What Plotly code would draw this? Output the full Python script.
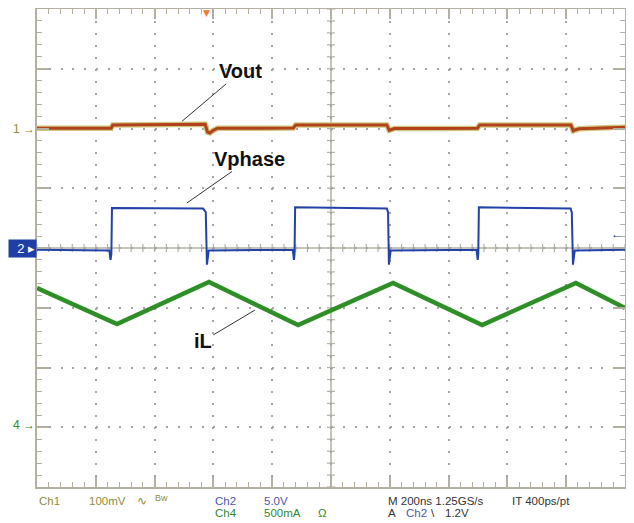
import plotly.graph_objects as go

# ---------------- data ----------------
# time in ns (200 ns/div, 10 div)
t_vout = [0, 200, 230, 252, 258, 420, 560, 572, 580, 588, 600, 614, 750, 872, 880, 1000,
          1190, 1198, 1206, 1216, 1350, 1498, 1506, 1650, 1816, 1824, 1832, 1844, 1950, 2000]
vout_mv = [0.5, 0.0, 0.8, 0.5, 6.0, 6.5, 6.0, 7.0, -6.0, -7.5, -3.0, 0.5, 0.5, 1.0, 6.0, 5.5,
           6.0, -3.0, -2.0, 0.0, 0.0, 0.5, 6.0, 5.5, 6.0, -4.0, -2.0, -0.5, 1.5, 2.0]

t_vphase = [0, 246, 250, 253, 255, 420, 565, 574, 578, 584, 870, 874, 876, 878, 1030,
            1190, 1194, 1197, 1203, 1495, 1499, 1501, 1503, 1660, 1815, 1819, 1823, 1829, 2000]
vphase_v = [-0.15, -0.2, -1.0, -0.5, 3.35, 3.3, 3.3, 3.0, -1.4, -0.2, -0.15, -1.0, -0.5, 3.4, 3.35,
            3.3, 3.0, -1.4, -0.2, -0.15, -1.0, -0.5, 3.4, 3.35, 3.3, 3.0, -1.4, -0.2, -0.15]

t_il = [0, 272, 585, 888, 1211, 1514, 1833, 2000]
il_a = [1.165, 0.864, 1.215, 0.856, 1.207, 0.856, 1.207, 0.998]

# channel settings: (units/div, ground position in divisions from centre)
CH1_SCALE, CH1_POS = 100.0, 2.0     # mV/div
CH2_SCALE, CH2_POS = 5.0, 0.0       # V/div
CH4_SCALE, CH4_POS = 0.5, -3.0      # A/div
TRIG_LEVEL = 1.2
TRIG_TIME = 578
TIME_DIV = 200

bottom_line1 = [("Ch1", 37, "#8c8c3c"), ("100mV", 87, "#8c8c3c"), ("∿", 135, "#8c8c3c"),
                ("Ch2", 213, "#4a5aa5"), ("5.0V", 262, "#4a5aa5"),
                ("M 200ns 1.25GS/s", 386, "#333333"), ("IT 400ps/pt", 510, "#333333")]
bottom_line2 = [("Ch4", 213, "#2f8a2f"), ("500mA", 262, "#2f8a2f"), ("Ω", 316, "#2f8a2f"),
                ("A", 386, "#333333"), ("Ch2", 404, "#4a5aa5"), ("\\", 429, "#333333"),
                ("1.2V", 443, "#333333")]

# ---------------- geometry ----------------
# the page body has an 8px margin, so the figure is offset by 8px
BODY = 8
W, H = 634, 523
PLOT_L, PLOT_R, PLOT_T, PLOT_B = 37, 625, 9, 487      # page pixels
L, T = PLOT_L - BODY, PLOT_T - BODY
R, B = W - (PLOT_R - BODY), H - (PLOT_B - BODY)
PW, PH = PLOT_R - PLOT_L, PLOT_B - PLOT_T


def px_x(px):
    return (px - PLOT_L) / PW


def px_y(py):
    return (PLOT_B - py) / PH


def rng(scale, pos):
    return [(-4 - pos) * scale, (4 - pos) * scale]


FONT = "Liberation Sans, Arial, sans-serif"
FRAME = "#b3b0a2"

fig = go.Figure()

# Vout (ch1)
fig.add_trace(go.Scatter(x=t_vout, y=vout_mv, mode="lines", yaxis="y",
                         line=dict(color="#cfc77e", width=5.5), hoverinfo="skip"))
fig.add_trace(go.Scatter(x=t_vout, y=vout_mv, mode="lines", yaxis="y",
                         line=dict(color="#b1421c", width=3), name="Vout"))
# Vphase (ch2)
fig.add_trace(go.Scatter(x=t_vphase, y=vphase_v, mode="lines", yaxis="y2",
                         line=dict(color="#2342a8", width=2), name="Vphase"))
# iL (ch4)
fig.add_trace(go.Scatter(x=t_il, y=il_a, mode="lines", yaxis="y3",
                         line=dict(color="#2f8f27", width=4.5), name="iL"))

shapes = []
# centre cross
shapes.append(dict(type="line", xref="x", yref="paper", x0=5 * TIME_DIV, x1=5 * TIME_DIV, y0=0, y1=1,
                   line=dict(color=FRAME, width=1.5), layer="below"))
shapes.append(dict(type="line", xref="paper", yref="y", x0=0, x1=1,
                   y0=-CH1_POS * CH1_SCALE, y1=-CH1_POS * CH1_SCALE,
                   line=dict(color=FRAME, width=1.5), layer="below"))
# minor ticks on centre cross
for i in range(51):
    xv = i * TIME_DIV / 5
    shapes.append(dict(type="line", xref="x", yref="y", xsizemode="scaled", ysizemode="pixel",
                       yanchor=-CH1_POS * CH1_SCALE, x0=xv, x1=xv, y0=-4, y1=4,
                       line=dict(color=FRAME, width=1.2), layer="below"))
for j in range(41):
    yv = rng(CH1_SCALE, CH1_POS)[0] + j * CH1_SCALE / 5
    shapes.append(dict(type="line", xref="x", yref="y", xsizemode="pixel", ysizemode="scaled",
                       xanchor=5 * TIME_DIV, x0=-4, x1=4, y0=yv, y1=yv,
                       line=dict(color=FRAME, width=1.2), layer="below"))

annotations = []
lab_font = dict(family=FONT, size=20, color="#111111")
annotations.append(dict(x=493, y=12, xref="x", yref="y", text="<b>Vout</b>", font=lab_font,
                        showarrow=True, arrowhead=0, arrowwidth=1, arrowcolor="#333333",
                        ax=59, ay=-50, standoff=0))
annotations.append(dict(x=510, y=3.77, xref="x", yref="y2", text="<b>Vphase</b>", font=lab_font,
                        showarrow=True, arrowhead=0, arrowwidth=1, arrowcolor="#333333",
                        ax=63, ay=-44, standoff=0))
annotations.append(dict(x=741, y=0.98, xref="x", yref="y3", text="<b>iL</b>", font=lab_font,
                        showarrow=True, arrowhead=0, arrowwidth=1, arrowcolor="#333333",
                        ax=-52, ay=31, standoff=0))

# channel ground markers
annotations.append(dict(x=0, y=0, xref="x", yref="y", text="1 →", showarrow=False,
                        xanchor="right", font=dict(family=FONT, size=12, color="#8c8c3c")))
annotations.append(dict(x=0, y=0, xref="x", yref="y2", text="  2 ▸", showarrow=False,
                        xanchor="right", bgcolor="#1f3fa6", borderpad=1,
                        font=dict(family=FONT, size=13, color="#ffffff")))
annotations.append(dict(x=0, y=0, xref="x", yref="y3", text="4 →", showarrow=False,
                        xanchor="right", yshift=2, font=dict(family=FONT, size=12, color="#2f8a2f")))
# trigger level / position markers
annotations.append(dict(x=10 * TIME_DIV, y=TRIG_LEVEL, xref="x", yref="y2", text="←", showarrow=False,
                        xanchor="right", font=dict(family=FONT, size=12, color="#2342a8")))
annotations.append(dict(x=TRIG_TIME, y=1, xref="x", yref="paper", text="▼", showarrow=False,
                        yanchor="top", yshift=3, font=dict(family="DejaVu Sans", size=9, color="#f07a2a")))

for txt, xp, col in bottom_line1:
    annotations.append(dict(x=px_x(xp), y=px_y(501), xref="paper", yref="paper", text=txt,
                            showarrow=False, xanchor="left", yanchor="middle",
                            font=dict(family=FONT, size=11.5, color=col)))
annotations.append(dict(x=px_x(153), y=px_y(498), xref="paper", yref="paper", text="Bw",
                        showarrow=False, xanchor="left", yanchor="middle",
                        font=dict(family=FONT, size=9, color="#8c8c3c")))
for txt, xp, col in bottom_line2:
    annotations.append(dict(x=px_x(xp), y=px_y(513), xref="paper", yref="paper", text=txt,
                            showarrow=False, xanchor="left", yanchor="middle",
                            font=dict(family=FONT, size=11.5, color=col)))

spacing_y = PH / 40
spacing_x = PW / 50
fig.update_layout(
    width=W, height=H, margin=dict(l=L, r=R, t=T, b=B),
    paper_bgcolor="white", plot_bgcolor="white", showlegend=False,
    shapes=shapes, annotations=annotations,
    xaxis=dict(range=[0, 10 * TIME_DIV], tick0=0, dtick=TIME_DIV, showticklabels=False,
               showgrid=True, gridcolor="#a5a5a5", gridwidth=1.5,
               griddash=f"2px,{spacing_y - 2:.2f}px", zeroline=False,
               showline=True, linecolor=FRAME, linewidth=1.5, mirror="ticks",
               ticks="inside", ticklen=10, tickcolor=FRAME, tickwidth=1.5,
               minor=dict(dtick=TIME_DIV / 5, ticks="inside", ticklen=5, tickcolor=FRAME,
                          tickwidth=1.2, showgrid=False),
               fixedrange=True, automargin=False),
    yaxis=dict(range=rng(CH1_SCALE, CH1_POS), tick0=0, dtick=CH1_SCALE, showticklabels=False,
               showgrid=True, gridcolor="#a5a5a5", gridwidth=1.5,
               griddash=f"2px,{spacing_x - 2:.2f}px", zeroline=False,
               showline=True, linecolor=FRAME, linewidth=1.5, mirror="ticks",
               ticks="inside", ticklen=12, tickcolor=FRAME, tickwidth=1.5,
               minor=dict(dtick=CH1_SCALE / 5, ticks="inside", ticklen=5, tickcolor=FRAME,
                          tickwidth=1.2, showgrid=False),
               fixedrange=True, automargin=False),
    yaxis2=dict(range=rng(CH2_SCALE, CH2_POS), overlaying="y", visible=False, fixedrange=True),
    yaxis3=dict(range=rng(CH4_SCALE, CH4_POS), overlaying="y", visible=False, fixedrange=True),
)

fig.write_html("out.html")
